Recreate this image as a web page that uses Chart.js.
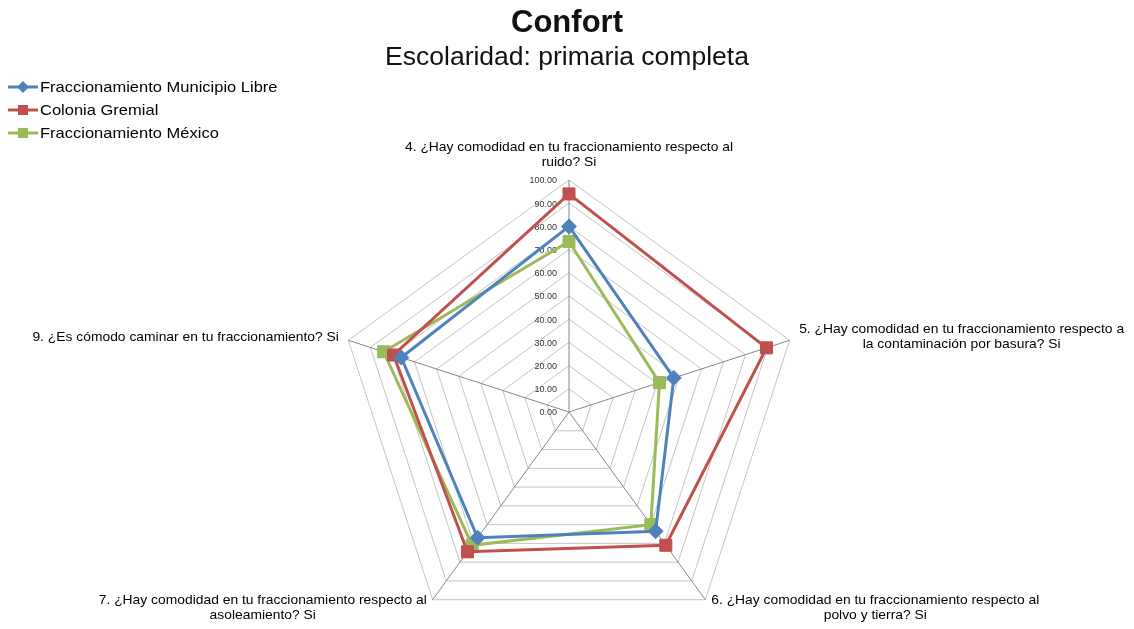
<!DOCTYPE html>
<html>
<head>
<meta charset="utf-8">
<script src="https://cdn.jsdelivr.net/npm/chart.js@4"></script>
<style>
  html, body { margin: 0; padding: 0; background: #fff; overflow: hidden; }
  #wrap { position: relative; width: 1134px; height: 629px; }
  #legend { position: absolute; left: 8px; top: 75px; font-family: "Liberation Sans", Arial, sans-serif; font-size: 15px; color: #000; }
  #legend .item { height: 23px; display: flex; align-items: center; white-space: nowrap; }
  #legend svg { margin-right: 2px; }
  #legend span { display: inline-block; transform: scaleX(1.1); transform-origin: left center; }
</style>
</head>
<body>
<div id="wrap">
  <canvas id="radar" width="1134" height="629"></canvas>
  <div id="legend"></div>
</div>
<script>
const categories = [
    ["4. ¿Hay comodidad en tu fraccionamiento respecto al", "ruido? Si"],
    ["5. ¿Hay comodidad en tu fraccionamiento respecto a", "la contaminación por basura? Si"],
    ["6. ¿Hay comodidad en tu fraccionamiento respecto al", "polvo y tierra? Si"],
    ["7. ¿Hay comodidad en tu fraccionamiento respecto al", "asoleamiento? Si"],
    ["9. ¿Es cómodo caminar en tu fraccionamiento? Si"]
];
const seriesNames = ["Fraccionamiento Municipio Libre", "Colonia Gremial", "Fraccionamiento México"];
const municipioLibre = [80, 47.5, 63.5, 67, 76];
const coloniaGremial = [94, 89.5, 71, 74.5, 79.5];
const fracMexico = [73.5, 41, 60, 71, 84];
const tickValues = [0, 10, 20, 30, 40, 50, 60, 70, 80, 90, 100];

const colors = ["#4F81BD", "#C0504D", "#9BBB59"];
const markers = ["rectRot", "rect", "rect"];
const font = "'Liberation Sans', Arial, sans-serif";
const stretch = 1.1; // the original text is a bit wider than plain Arial

// value labels sit left of the vertical axis, like the original
const tickPlugin = {
    id: "leftTicks",
    beforeDatasetsDraw(chart) {
        const s = chart.scales.r;
        const ctx = chart.ctx;
        ctx.save();
        ctx.font = "9px " + font;
        ctx.fillStyle = "#333";
        ctx.textAlign = "right";
        ctx.textBaseline = "middle";
        tickValues.forEach(v => {
            const d = s.getDistanceFromCenterForValue(v);
            ctx.fillText(v.toFixed(2), s.xCenter - 12, s.yCenter - d + 1);
        });
        ctx.restore();
    }
};

// category labels: lines centred inside their block
const labelPlugin = {
    id: "catLabels",
    afterDraw(chart) {
        const s = chart.scales.r;
        const ctx = chart.ctx;
        const lh = 15;
        ctx.save();
        ctx.font = "12.6px " + font;
        ctx.fillStyle = "#000";
        ctx.textAlign = "center";
        ctx.textBaseline = "middle";
        categories.forEach((lines, i) => {
            const p = s.getPointPosition(i, s.drawingArea + 10);
            const w = Math.max(...lines.map(l => ctx.measureText(l).width)) * stretch;
            let cx;
            if (Math.abs(p.x - s.xCenter) < 5) cx = p.x;
            else if (p.x > s.xCenter) cx = p.x + w / 2;
            else cx = p.x - w / 2;
            let top;
            if (p.y < s.yCenter - s.drawingArea * 0.9) top = p.y - lines.length * lh;
            else top = p.y - lines.length * lh / 2;
            lines.forEach((l, k) => {
                ctx.save();
                ctx.translate(cx, top + lh * k + lh / 2);
                ctx.scale(stretch, 1);
                ctx.fillText(l, 0, 0);
                ctx.restore();
            });
        });
        ctx.restore();
    }
};

const datasets = [municipioLibre, coloniaGremial, fracMexico].map((vals, i) => ({
    label: seriesNames[i],
    data: vals,
    borderColor: colors[i],
    backgroundColor: colors[i],
    pointBackgroundColor: colors[i],
    pointBorderColor: colors[i],
    pointStyle: markers[i],
    pointRadius: i === 0 ? 7.5 : 8.5,
    pointBorderWidth: 1,
    borderWidth: 3,
    fill: false,
    tension: 0
}));

new Chart(document.getElementById("radar"), {
    type: "radar",
    data: { labels: categories, datasets: datasets },
    options: {
        responsive: false,
        animation: false,
        devicePixelRatio: 1,
        plugins: {
            legend: { display: false },
            tooltip: { enabled: false },
            title: {
                display: true,
                text: "Confort",
                color: "#111",
                font: { family: font, size: 31, weight: "bold", lineHeight: 1 },
                padding: { top: 8, bottom: 0 }
            },
            subtitle: {
                display: true,
                text: "Escolaridad: primaria completa",
                color: "#111",
                font: { family: font, size: 26.5, lineHeight: 1 },
                padding: { top: 5, bottom: 0 }
            }
        },
        scales: {
            r: {
                min: 0,
                max: 100,
                ticks: { display: false, stepSize: 10 },
                pointLabels: { display: false },
                grid: { color: "#c4c4c4", lineWidth: 1 },
                angleLines: { color: "#868686", lineWidth: 1 },
                afterFit(s) {
                    s.xCenter = 569;
                    s.yCenter = 412;
                    s.drawingArea = 232;
                }
            }
        }
    },
    plugins: [tickPlugin, labelPlugin]
});

// legend: line with marker, stacked at top left
const legend = document.getElementById("legend");
seriesNames.forEach((name, i) => {
    const mark = markers[i] === "rectRot"
        ? `<polygon points="15,1 21,7 15,13 9,7" fill="${colors[i]}"/>`
        : `<rect x="10" y="2" width="10" height="10" fill="${colors[i]}"/>`;
    legend.innerHTML += `<div class="item"><svg width="30" height="14"><line x1="0" y1="7" x2="30" y2="7" stroke="${colors[i]}" stroke-width="3"/>${mark}</svg><span>${name}</span></div>`;
});
</script>
</body>
</html>
